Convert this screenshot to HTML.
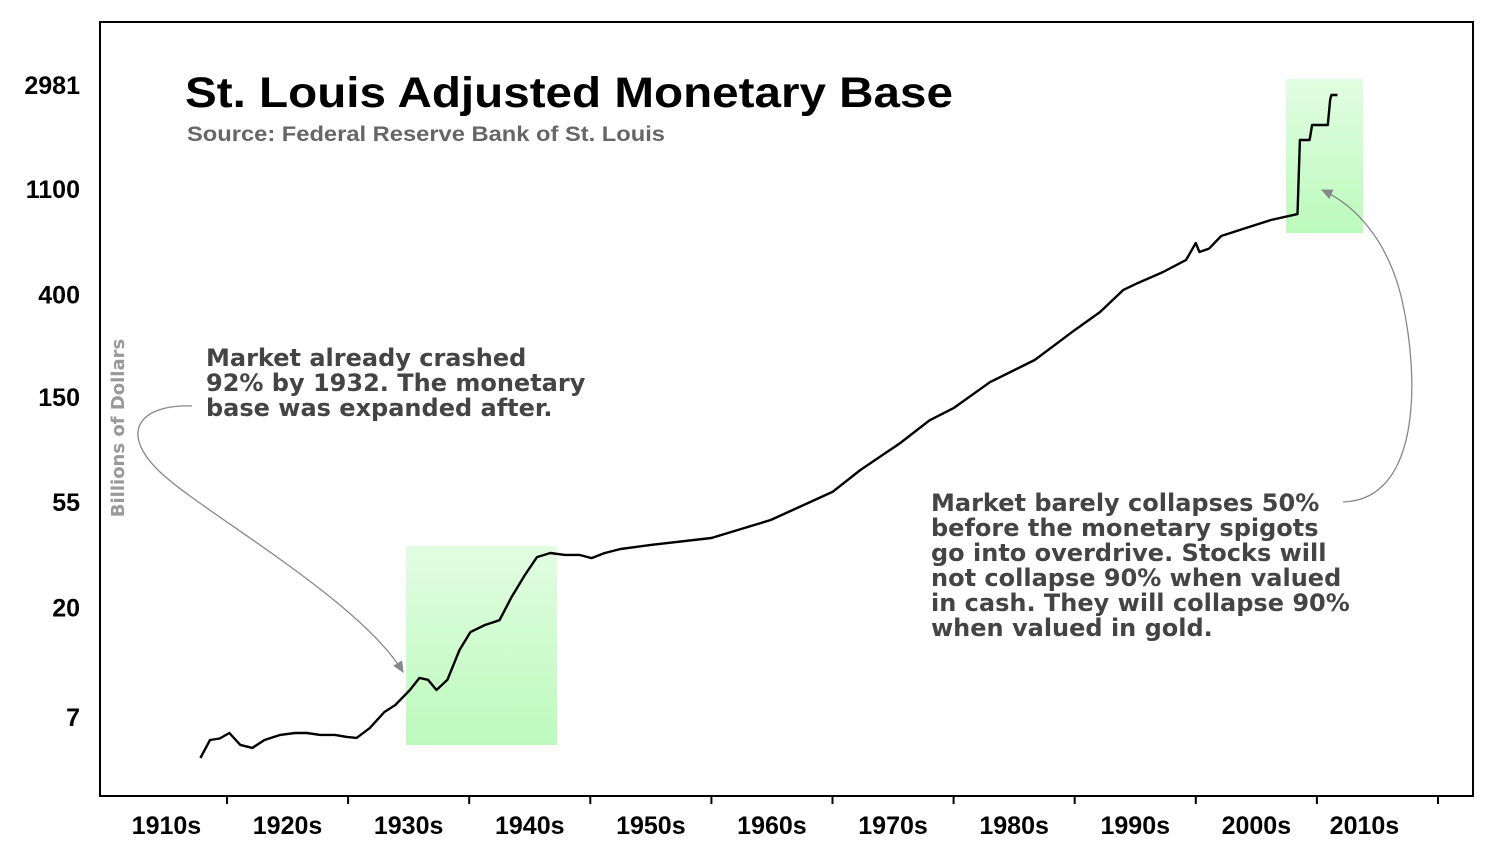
<!DOCTYPE html>
<html><head><meta charset="utf-8"><style>
html,body{margin:0;padding:0;background:#fff;}
svg{display:block;}
.ax{font-family:"Liberation Sans",Arial,sans-serif;font-weight:bold;font-size:25px;fill:#000;}
.ann{font-family:"DejaVu Sans","Liberation Sans",sans-serif;font-weight:bold;font-size:24px;fill:#444;}
</style></head><body>
<svg id="chart" width="1489" height="849" viewBox="0 0 1489 849" xmlns="http://www.w3.org/2000/svg">
<defs>
<linearGradient id="gg" x1="0" y1="0" x2="0" y2="1"><stop offset="0" stop-color="#e2fde2"/><stop offset="1" stop-color="#bcfabc"/></linearGradient>
<marker id="ah" markerWidth="10" markerHeight="10" refX="8" refY="5" orient="auto"><path d="M0,1 L9,5 L0,9 z" fill="#888"/></marker>
</defs>
<rect x="100" y="22" width="1373" height="774" fill="#fff" stroke="#000" stroke-width="2"/>
<rect x="406" y="546" width="151" height="199" fill="url(#gg)"/>
<rect x="1286" y="79" width="77" height="154" fill="url(#gg)"/>
<g id="yticks"></g><g id="xticks"></g>
<path id="line" fill="none" stroke="#000" stroke-width="2.4" stroke-linejoin="round"/>
<text x="185" y="107" font-family="Liberation Sans,Arial,sans-serif" font-weight="bold" font-size="43" textLength="768" lengthAdjust="spacingAndGlyphs" fill="#000">St. Louis Adjusted Monetary Base</text>
<text x="187" y="141" font-family="Liberation Sans,Arial,sans-serif" font-weight="bold" font-size="21" fill="#666" textLength="478" lengthAdjust="spacingAndGlyphs">Source: Federal Reserve Bank of St. Louis</text>
<text transform="translate(124,428) rotate(-90)" text-anchor="middle" font-family="DejaVu Sans,sans-serif" font-weight="bold" font-size="18" fill="#999">Billions of Dollars</text>
<g>
<text class="ann" x="206" y="366">Market already crashed</text>
<text class="ann" x="206" y="391">92% by 1932. The monetary</text>
<text class="ann" x="206" y="416">base was expanded after.</text>
</g>
<g>
<text class="ann" x="931" y="511">Market barely collapses 50%</text>
<text class="ann" x="931" y="536">before the monetary spigots</text>
<text class="ann" x="931" y="561">go into overdrive. Stocks will</text>
<text class="ann" x="931" y="586">not collapse 90% when valued</text>
<text class="ann" x="931" y="611">in cash. They will collapse 90%</text>
<text class="ann" x="931" y="636">when valued in gold.</text>
</g>
<path d="M192,406 C140,404 118,432 160,472 S360,600 403,672" fill="none" stroke="#888" stroke-width="1.3" marker-end="url(#ah)"/>
<path d="M1343,502 C1420,500 1420,380 1402,300 C1388,240 1355,205 1322,190" fill="none" stroke="#888" stroke-width="1.3" marker-end="url(#ah)"/>
</svg>
<script>
const years=[1917.8,1918.6,1919.4,1920.2,1921.1,1922.1,1923.1,1924.4,1925.6,1926.6,1927.7,1928.9,1929.9,1930.7,1931.8,1933.0,1933.9,1935.1,1935.9,1936.6,1937.3,1938.2,1939.2,1940.1,1941.3,1942.5,1943.5,1944.6,1945.6,1946.7,1947.9,1949.1,1950.1,1951.2,1952.5,1955.0,1960.0,1964.9,1970.0,1972.3,1975.6,1978.0,1980.0,1983.0,1986.7,1988.9,1990.0,1992.1,1994.0,1995.2,1997.3,1999.2,2000.0,2000.3,2001.1,2002.1,2004.1,2006.2,2008.4,2008.6,2009.4,2009.6,2010.9,2011.1,2011.2,2011.7];
const values=[4.73,5.62,5.7,6.01,5.36,5.21,5.62,5.9,6.01,6.01,5.9,5.9,5.79,5.73,6.31,7.35,7.86,9.07,10.18,10.0,9.07,10.0,13.3,15.8,16.9,17.7,22.1,27.3,32.4,33.7,33.1,33.1,32.1,33.7,35.0,36.4,38.9,46.2,60.5,74.6,96.6,120,135,173,214,259,285,339,418,447,497,558,656,602,622,702,757,818,866,1760,1760,2032,2032,2596,2709,2709];
const yTicks=[2981,1100,400,150,55,20,7];
const xTickYears=[1920,1930,1940,1950,1960,1970,1980,1990,2000,2010,2020];
const xLabels=["1910s","1920s","1930s","1940s","1950s","1960s","1970s","1980s","1990s","2000s","2010s"];
const NS="http://www.w3.org/2000/svg";
function xs(y){return 227+(y-1920)*12.11;}
function ys(v){return 85+(Math.log(2981)-Math.log(v))*104.4;}
let d="";
for(let i=0;i<years.length;i++){d+=(i?"L":"M")+xs(years[i]).toFixed(1)+","+ys(values[i]).toFixed(1);}
document.getElementById("line").setAttribute("d",d);
const yg=document.getElementById("yticks");
yTicks.forEach(v=>{const t=document.createElementNS(NS,"text");


t.setAttribute("class","ax");t.setAttribute("x",80);t.setAttribute("y",ys(v)+9);t.setAttribute("text-anchor","end");t.textContent=v;yg.appendChild(t);});
const xg=document.getElementById("xticks");
xTickYears.forEach(y=>{const l=document.createElementNS(NS,"line");


l.setAttribute("x1",xs(y));l.setAttribute("x2",xs(y));l.setAttribute("y1",796);l.setAttribute("y2",804);l.setAttribute("stroke","#000");l.setAttribute("stroke-width","2");xg.appendChild(l);});
xLabels.forEach((s,i)=>{const t=document.createElementNS(NS,"text");


t.setAttribute("class","ax");t.setAttribute("x",xs(1915+10*i)+(i==10?-13:0));t.setAttribute("y",834);t.setAttribute("text-anchor","middle");t.textContent=s;xg.appendChild(t);});
</script>
</body></html>
